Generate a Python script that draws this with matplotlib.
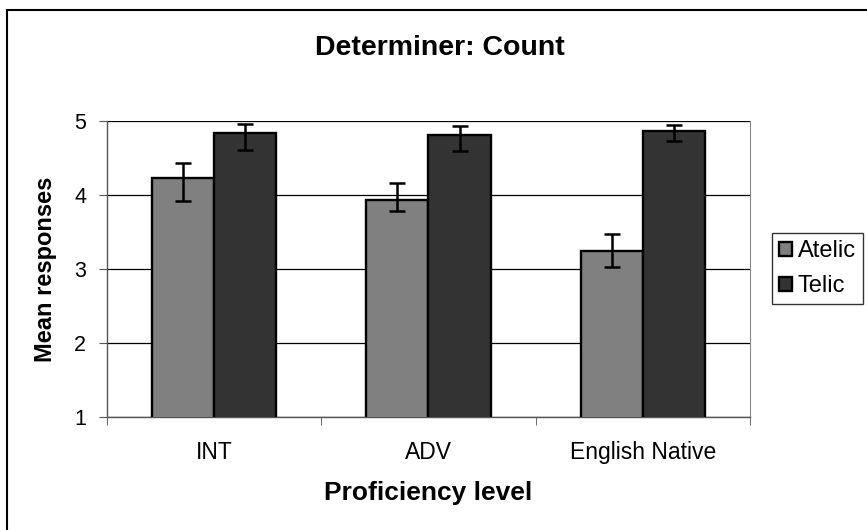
import matplotlib
matplotlib.use("Agg")
import matplotlib.pyplot as plt
import numpy as np
from matplotlib.patches import Rectangle

categories = ["INT", "ADV", "English Native"]
series = ["Atelic", "Telic"]
atelic = [4.23, 3.93, 3.24]
telic = [4.84, 4.81, 4.86]
atelic_lo = [0.31, 0.14, 0.21]
atelic_hi = [0.20, 0.23, 0.23]
telic_lo = [0.23, 0.22, 0.13]
telic_hi = [0.12, 0.12, 0.08]
yticks = [1, 2, 3, 4, 5]

W, H = 867, 530
plt.rcParams['font.family'] = ['Liberation Sans', 'DejaVu Sans']
fig = plt.figure(figsize=(W / 100, H / 100), dpi=100)

# figure border
fig.patches.append(Rectangle((7 / W, -0.01), 1.0, 1 - 10 / H + 0.01, transform=fig.transFigure,
                             fill=False, edgecolor='black', linewidth=1.5, clip_on=False))

ax = fig.add_axes([107 / W, 1 - 417 / H, (750 - 107) / W, (417 - 121) / H])
x = np.arange(len(categories))
bw = 0.29
ekw = dict(ecolor='black', elinewidth=1.8, capsize=5.8, capthick=1.8)
ax.bar(x - bw / 2, atelic, bw, color='#808080', edgecolor='black', linewidth=1.7,
       yerr=[atelic_lo, atelic_hi], error_kw=ekw, label=series[0], zorder=3)
ax.bar(x + bw / 2, telic, bw, color='#333333', edgecolor='black', linewidth=1.7,
       yerr=[telic_lo, telic_hi], error_kw=ekw, label=series[1], zorder=3)

ax.set_ylim(1, 5)
ax.set_xlim(-0.5, 2.5)
ax.set_yticks(yticks)
ax.set_yticklabels([str(v) for v in yticks], fontsize=15.5)
ax.yaxis.grid(True, color='black', linewidth=0.9, zorder=0)
ax.set_axisbelow(True)
ax.set_xticks(x)
ax.set_xticklabels(categories, fontsize=16.5)
ax.tick_params(axis='x', length=0, pad=17)
ax.set_xticks([-0.5, 0.5, 1.5, 2.5], minor=True)
ax.tick_params(axis='x', which='minor', length=5.5, color='#555555')
ax.tick_params(axis='y', length=6, color='#555555', pad=9)
for s in ['left', 'bottom']:
    ax.spines[s].set_color('#555555')
    ax.spines[s].set_linewidth(1)
ax.spines['right'].set_color('#888888')
ax.spines['top'].set_visible(False)

ax.set_ylabel("Mean responses", fontsize=17, fontweight='bold')
ax.yaxis.set_label_coords((45 - 107) / 643, 0.5)
ax.yaxis.label.set_va('center')
ax.set_xlabel("Proficiency level", fontsize=19, fontweight='bold')
ax.xaxis.set_label_coords(0.5, (417 - 493) / 296)
ax.xaxis.label.set_va('center')
fig.text(440 / W, 1 - 48 / H, "Determiner: Count", fontsize=20.5, fontweight='bold',
         ha='center', va='center')

leg = fig.legend(loc='upper left', bbox_to_anchor=(772 / W, 1 - 233 / H), fontsize=17,
                 frameon=True, fancybox=False, edgecolor='black', handlelength=0.55,
                 handleheight=0.55, handletextpad=0.25, borderpad=0.3, labelspacing=0.55,
                 borderaxespad=0)
leg.get_frame().set_linewidth(1)

fig.savefig("out.png", dpi=100)
